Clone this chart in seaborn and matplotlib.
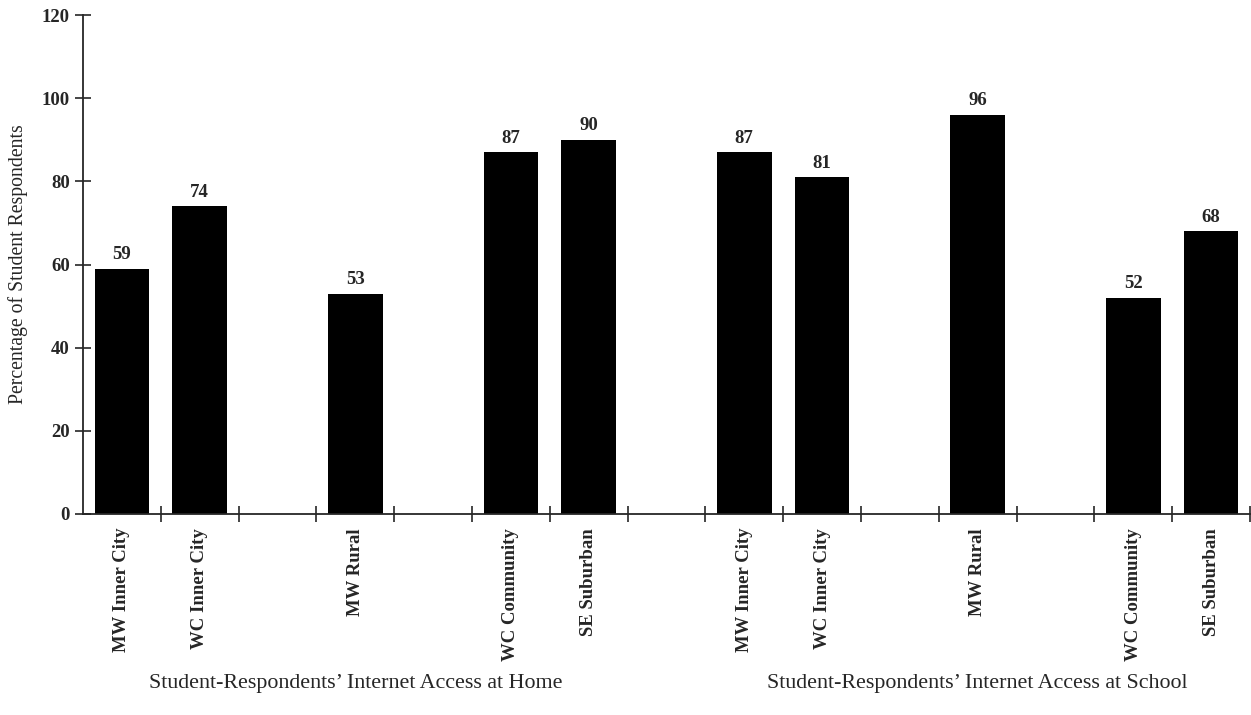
import matplotlib
matplotlib.use("Agg")
import matplotlib.pyplot as plt
import matplotlib.transforms as mtransforms
from matplotlib.ticker import FixedLocator
import numpy as np
import pandas as pd
import seaborn as sns

# Sites in slot order for each setting; "" marks an empty slot
site_slots = ["MW Inner City", "WC Inner City", "", "MW Rural", "",
              "WC Community", "SE Suburban"]
home_pct = [59, 74, 53, 87, 90]
school_pct = [87, 81, 96, 52, 68]
group_titles = ["Student-Respondents\u2019 Internet Access at Home",
                "Student-Respondents\u2019 Internet Access at School"]
y_ticks = [0, 20, 40, 60, 80, 100, 120]

sns.set_style("ticks")
plt.rcParams["font.family"] = ["Liberation Serif", "DejaVu Serif"]

# Build the slot layout: home slots, one blank slot, school slots
slot_labels = site_slots + [""] + site_slots
rows = []
vals = iter(home_pct + school_pct)
for i, lab in enumerate(slot_labels):
    if lab:
        rows.append({"slot": i, "site": lab, "pct": next(vals)})
df = pd.DataFrame(rows)

fig = plt.figure(figsize=(12.51, 7.15), dpi=100)
ax = fig.add_axes([83 / 1251, (715 - 514) / 715, 1167 / 1251, (514 - 15) / 715])

sns.barplot(data=df, x="slot", y="pct", native_scale=True, color="black",
            width=0.70, edgecolor="none", saturation=1, ax=ax)
for c in ax.containers:
    ax.bar_label(c, fmt="%d", padding=4, fontsize=13.5, fontweight="bold")

n = len(slot_labels)
ax.set_xlim(-0.5, n - 0.5)
ax.set_ylim(0, 120)
ax.set_yticks(y_ticks)
ax.set_xticks(range(n))
ax.set_xticklabels(slot_labels, rotation=90, fontsize=13.5, fontweight="bold")
for t in ax.get_yticklabels():
    t.set_fontweight("bold")
ax.xaxis.set_minor_locator(FixedLocator(np.arange(0.5, n, 1.0)))
ax.tick_params(axis="x", which="major", length=0, pad=10)
ax.tick_params(axis="x", which="minor", direction="inout", length=12, width=1.2)
ax.tick_params(axis="y", direction="inout", length=12, width=1.2, labelsize=13.5)
ax.set_xlabel("")
ax.set_ylabel("Percentage of Student Respondents", fontsize=14.2)
ax.yaxis.set_label_coords(-0.047, 0.5)

sns.despine(ax=ax, top=True, right=True)
for s in ["left", "bottom"]:
    ax.spines[s].set_linewidth(1.3)

trans = mtransforms.blended_transform_factory(ax.transData, fig.transFigure)
for center, title in zip([3, 11], group_titles):
    ax.text(center, 0.044, title, transform=trans, ha="center", va="center",
            fontsize=15.8)

fig.savefig("out.png", dpi=100)
